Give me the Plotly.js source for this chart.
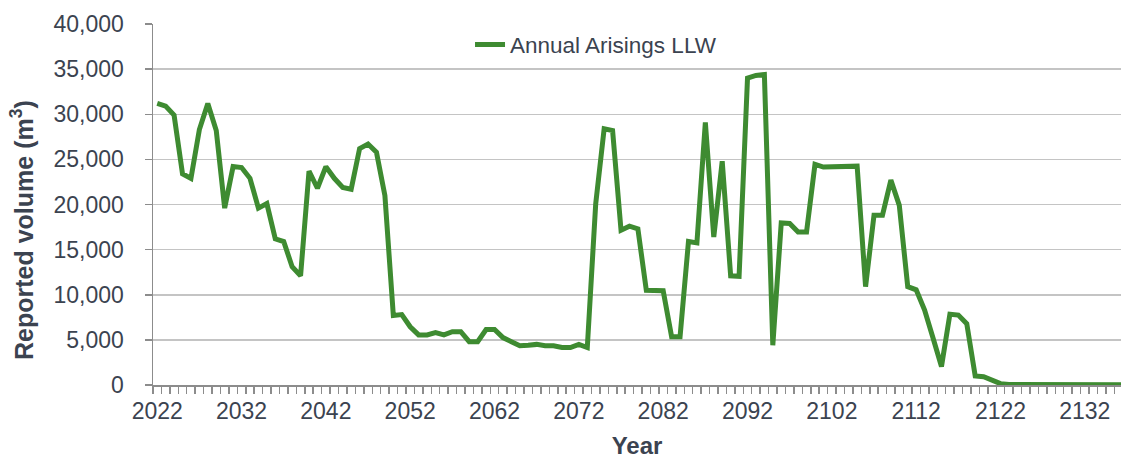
<!DOCTYPE html>
<html>
<head>
<meta charset="utf-8">
<script src="https://cdn.plot.ly/plotly-3.0.1.min.js"></script>
<style>html,body{margin:0;padding:0;background:#fff;}#chart{width:1121px;height:459px;}</style>
</head>
<body>
<div id="chart"></div>
<script>
// Years 2022..2137
var startYear = 2022;
var volumes = [
  31200, 30900, 29900, 23400, 22900, 28300, 31200, 28200, 19600, 24200,
  24100, 22900, 19600, 20100, 16200, 15900, 13100, 12100, 23700, 21800,
  24200, 22900, 21900, 21700, 26200, 26700, 25800, 21000, 7700, 7800,
  6450, 5550, 5550, 5800, 5550, 5900, 5900, 4800, 4800, 6150,
  6150, 5250, 4800, 4350, 4400, 4500, 4350, 4350, 4150, 4150,
  4500, 4150, 20100, 28400, 28200, 17150, 17600, 17300, 10500, 10500,
  10450, 5350, 5350, 15900, 15750, 29100, 16400, 24800, 12100, 12050,
  34000, 34300, 34400, 4400, 17950, 17900, 16950, 16950, 24450, 24150,
  24150, 24150, 24250, 24250, 10900, 18800, 18800, 22700, 19900, 10900,
  10550, 8300, 5200, 2050, 7850, 7750, 6800, 1000, 920, 500,
  150, 50, 50, 50, 150, 150, 150, 120, 50, 30,
  30, 30, 30, 30, 30, 30
];
var years = volumes.map(function (v, i) { return startYear + i; });
var seriesName = 'Annual Arisings LLW';
var yTitleText = 'Reported volume (m<sup>3</sup>)';
var xTitleText = 'Year';
var yTickVals = [0, 5000, 10000, 15000, 20000, 25000, 30000, 35000, 40000];

var textColor = '#3b4350';
var fontFam = '"Liberation Sans", Arial, sans-serif';
var narrowFam = '"Liberation Sans Narrow", "Arial Narrow", "Liberation Sans", sans-serif';

var trace = {
  x: years,
  y: volumes,
  type: 'scatter',
  mode: 'lines',
  name: seriesName,
  line: { color: '#3e8b31', width: 5, shape: 'linear' },
  hoverinfo: 'x+y'
};

var layout = {
  width: 1121,
  height: 459,
  margin: { l: 153, r: 0, t: 24, b: 74, pad: 0 },
  paper_bgcolor: '#ffffff',
  plot_bgcolor: '#ffffff',
  font: { family: fontFam, size: 22, color: textColor },
  showlegend: true,
  legend: {
    x: 0.3275, y: 0.942, xanchor: 'left', yanchor: 'middle',
    bgcolor: 'rgba(0,0,0,0)',
    font: { family: fontFam, size: 22.5, color: textColor }
  },
  xaxis: {
    range: [2021.5, 2136.29],
    tickmode: 'linear',
    tick0: 2022,
    dtick: 10,
    ticks: '',
    ticklabelstandoff: 5,
    showgrid: false,
    zeroline: false,
    showline: true,
    linecolor: '#8c8c8c',
    linewidth: 1.5,
    tickfont: { family: narrowFam, size: 23, color: textColor },
    minor: { ticks: 'outside', ticklen: 7, tickcolor: '#8c8c8c', tickwidth: 1.5, tick0: 2021.5, dtick: 1, showgrid: false },
    title: { text: xTitleText, font: { family: fontFam, size: 24, color: textColor, weight: 'bold' }, standoff: 16 },
    fixedrange: true
  },
  yaxis: {
    range: [0, 40000],
    tickmode: 'array',
    tickvals: yTickVals,
    ticktext: yTickVals.map(function (v) { return v.toLocaleString('en-US'); }),
    ticks: 'outside',
    ticklen: 7,
    tickcolor: '#8c8c8c',
    tickwidth: 1.5,
    ticklabelstandoff: 16,
    showgrid: true,
    gridcolor: '#c4c4c4',
    gridwidth: 1.5,
    zeroline: false,
    showline: true,
    linecolor: '#8c8c8c',
    linewidth: 1.5,
    tickfont: { family: fontFam, size: 23, color: textColor },
    title: { text: '' },
    fixedrange: true
  },
  annotations: [{
    text: yTitleText,
    xref: 'paper', yref: 'paper',
    x: -0.1353, y: 0.4294,
    xanchor: 'center', yanchor: 'middle',
    textangle: -90,
    showarrow: false,
    font: { family: fontFam, size: 25, color: textColor, weight: 'bold' }
  }]
};

Plotly.newPlot('chart', [trace], layout, { displayModeBar: false, staticPlot: true });
</script>
</body>
</html>
